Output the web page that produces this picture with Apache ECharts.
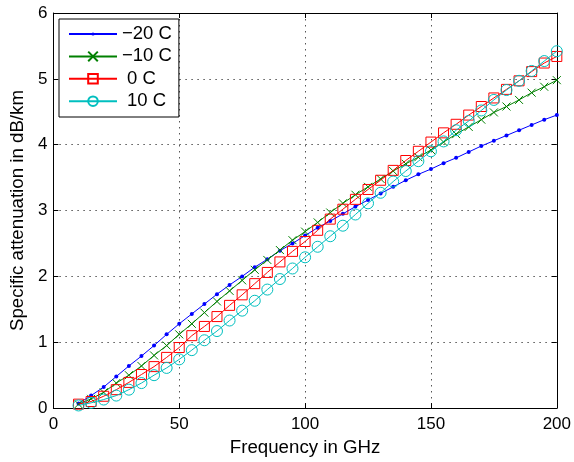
<!DOCTYPE html>
<html>
<head>
<meta charset="utf-8">
<script src="https://cdn.jsdelivr.net/npm/echarts@6/dist/echarts.min.js"></script>
<style>
html,body{margin:0;padding:0;background:#fff;}
#chart{width:574px;height:462px;}
</style>
</head>
<body>
<div id="chart"></div>
<script>
// ---- data ----
const frequencies = [10,15,20,25,30,35,40,45,50,55,60,65,70,75,80,85,90,95,100,105,110,115,120,125,130,135,140,145,150,155,160,165,170,175,180,185,190,195,200];
const seriesNames = ['\u221220 C', '\u221210 C', '0 C', '10 C'];
const atten_m20 = [0.07,0.19,0.32,0.48,0.64,0.79,0.95,1.12,1.28, 1.43,1.58,1.73,1.87,2.00,2.14,2.26,2.39,2.50,2.62, 2.74,2.84,2.95,3.06,3.16,3.26,3.36,3.46,3.55,3.63, 3.72,3.80,3.89,3.98,4.06,4.14,4.22,4.30,4.38,4.45];
const atten_m10 = [0.06,0.14,0.24,0.38,0.50,0.64,0.80,0.95,1.12, 1.28,1.45,1.62,1.78,1.94,2.10,2.25,2.40,2.55,2.68, 2.82,2.97,3.11,3.24,3.36,3.48,3.60,3.71,3.81,3.92, 4.04,4.16,4.27,4.38,4.49,4.58,4.68,4.79,4.88,4.98];
const atten_0   = [0.06,0.10,0.18,0.28,0.39,0.51,0.63,0.77,0.92, 1.10,1.24,1.39,1.56,1.72,1.89,2.06,2.22,2.38,2.53, 2.70,2.87,3.02,3.17,3.32,3.46,3.61,3.76,3.90,4.04, 4.18,4.31,4.45,4.58,4.71,4.84,4.97,5.11,5.24,5.34];
const atten_10  = [0.04,0.08,0.13,0.19,0.28,0.38,0.50,0.61,0.74, 0.88,1.03,1.17,1.33,1.48,1.63,1.80,1.96,2.12,2.29, 2.45,2.61,2.77,2.94,3.11,3.27,3.44,3.60,3.75,3.90, 4.05,4.22,4.36,4.52,4.68,4.83,4.97,5.12,5.27,5.42];
const xTicks = {min: 0, max: 200, interval: 50};
const yTicks = {min: 0, max: 6, interval: 1};
const xLabel = 'Frequency in GHz';
const yLabel = 'Specific attenuation in dB/km';

// ---- styles ----
const FONT = '"Liberation Sans", Arial, Helvetica, sans-serif';
const colors = ['#0000ff', '#008000', '#ff0000', '#00bfbf'];
const symbols = ['circle', 'path://M0,0L10,10M0,10L10,0', 'rect', 'circle'];
const symbolSizes = [4, 8, 10, 11];
const allData = [atten_m20, atten_m10, atten_0, atten_10];

const series = allData.map((arr, k) => {
  const filled = k === 0;
  return {
    name: seriesNames[k],
    type: 'line',
    xAxisIndex: 0,
    yAxisIndex: 0,
    data: frequencies.map((f, i) => [f, arr[i]]),
    symbol: symbols[k],
    symbolSize: symbolSizes[k],
    showAllSymbol: true,
    animation: false,
    lineStyle: {color: colors[k], width: 1},
    itemStyle: filled
      ? {color: colors[k], borderWidth: 0}
      : {color: 'rgba(0,0,0,0)', borderColor: colors[k], borderWidth: 1},
    emphasis: {disabled: true},
    z: 3 + k
  };
});

const axisCommon = {
  axisLine: {show: true, onZero: false, lineStyle: {color: '#000', width: 1}},
  axisTick: {show: true, inside: true, length: 5, lineStyle: {color: '#000'}},
};
const gridLine = {show: true, lineStyle: {color: '#555', width: 1, type: [1.5, 4.5]}};

const chart = echarts.init(document.getElementById('chart'), null, {renderer: 'canvas'});
chart.setOption({
  animation: false,
  backgroundColor: '#fff',
  textStyle: {fontFamily: FONT},
  grid: {left: 52, right: 15, top: 13, bottom: 50.5, containLabel: false},
  xAxis: [
    Object.assign({
      type: 'value', position: 'bottom', min: xTicks.min, max: xTicks.max, interval: xTicks.interval,
      name: xLabel, nameLocation: 'middle', nameGap: 24,
      nameTextStyle: {fontSize: 18.7, color: '#000', fontFamily: FONT},
      axisLabel: {fontSize: 17, color: '#000', margin: 8, fontFamily: FONT},
      splitLine: gridLine
    }, axisCommon),
    Object.assign({
      type: 'value', position: 'top', min: xTicks.min, max: xTicks.max, interval: xTicks.interval,
      axisLabel: {show: false}, splitLine: {show: false}
    }, axisCommon)
  ],
  yAxis: [
    Object.assign({
      type: 'value', position: 'left', min: yTicks.min, max: yTicks.max, interval: yTicks.interval,
      name: yLabel, nameLocation: 'middle', nameGap: 19,
      nameTextStyle: {fontSize: 18.7, color: '#000', fontFamily: FONT},
      axisLabel: {fontSize: 17, color: '#000', margin: 6, fontFamily: FONT},
      splitLine: gridLine
    }, axisCommon),
    Object.assign({
      type: 'value', position: 'right', min: yTicks.min, max: yTicks.max, interval: yTicks.interval,
      axisLabel: {show: false}, splitLine: {show: false}
    }, axisCommon)
  ],
  legend: [
    {
      data: [seriesNames[0]],
      orient: 'vertical', left: 59, top: 19,
      padding: [5, 7, 73, 9],
      itemWidth: 48, itemHeight: 4, itemGap: 2.4,
      selectedMode: false,
      borderColor: '#000', borderWidth: 1, backgroundColor: '#fff',
      textStyle: {fontSize: 18.5, color: '#000', fontFamily: FONT, lineHeight: 20},
      z: 10
    },
    {
      data: [
        {name: seriesNames[1]},
        {name: seriesNames[2], textStyle: {padding: [0, 0, 0, 5]}},
        {name: seriesNames[3], textStyle: {padding: [0, 0, 0, 5]}}
      ],
      orient: 'vertical', left: 68, top: 46.4,
      padding: 0,
      itemWidth: 48, itemHeight: 12, itemGap: 2.4,
      selectedMode: false,
      textStyle: {fontSize: 18.5, color: '#000', fontFamily: FONT, lineHeight: 20},
      z: 11
    }
  ],
  series: series
});
</script>
</body>
</html>
